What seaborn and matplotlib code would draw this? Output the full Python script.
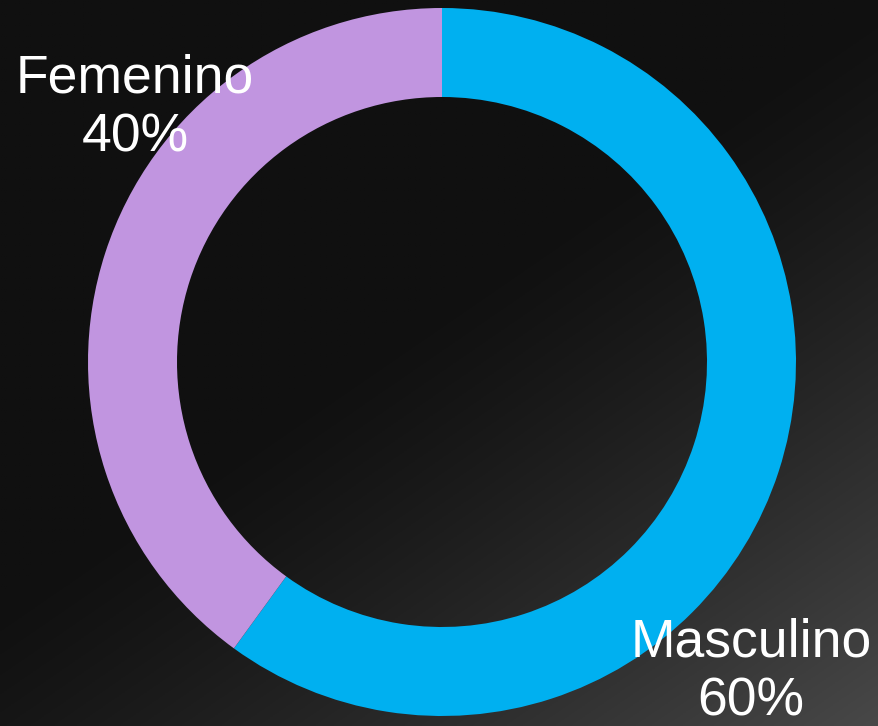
import numpy as np
import matplotlib
matplotlib.use("Agg")
import matplotlib.pyplot as plt
import seaborn as sns

categories = ["Masculino", "Femenino"]
values = [60, 40]
pct_labels = ["60%", "40%"]
colors = ["#00B0F0", "#C195E0"]

sns.set_theme(style="white")
plt.rcParams['font.family'] = ['Liberation Sans', 'DejaVu Sans']

W, H = 879, 726
fig = plt.figure(figsize=(W / 100, H / 100), dpi=100)
ax = fig.add_axes([0, 0, 1, 1])
ax.set_xlim(0, W)
ax.set_ylim(0, H)
ax.axis("off")

# background gradient (dark, lighter toward bottom-right)
gx, gy = np.meshgrid(np.linspace(0, 1, 400), np.linspace(0, 1, 330))
t = (gx + 1.2 * gy) / 2.2
s = np.clip((t - 0.45) / 0.55, 0, 1) ** 1.3
v = (16 + 56 * s) / 255.0
img = np.dstack([v, v, v])
ax.imshow(img, extent=[0, W, 0, H], origin="upper", aspect="auto", zorder=0)

cx, cy = 442, H - 362
R = 354
ax.pie(values, colors=colors, startangle=90, counterclock=False,
       center=(cx, cy), radius=R, frame=True,
       wedgeprops=dict(width=89, edgecolor="none", linewidth=0))
ax.set_xlim(0, W)
ax.set_ylim(0, H)
ax.set_aspect("auto")
ax.axis("off")

label_pos = {"Masculino": (751, H - 672), "Femenino": (135, H - 108)}
for cat, pl in zip(categories, pct_labels):
    x, y = label_pos[cat]
    ax.text(x, y, f"{cat}\n{pl}", color="white", fontsize=38.5, ha="center",
            va="center", linespacing=1.22, zorder=5)

fig.savefig("out.png", dpi=100)
